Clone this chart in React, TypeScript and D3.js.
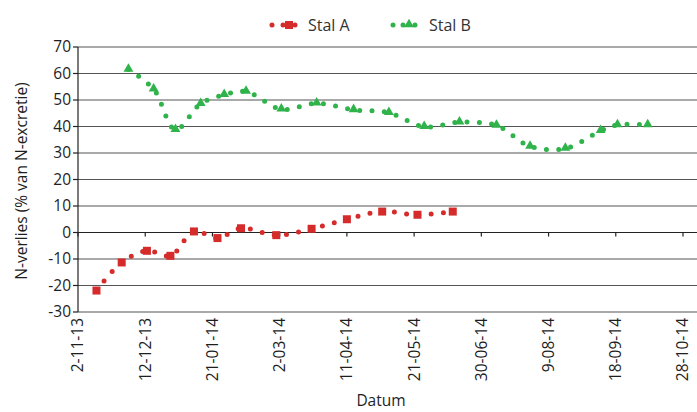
import React from "react";
import * as d3 from "d3";

const stalADates = [
  "2013-11-13", "2013-11-28", "2013-12-13", "2013-12-27", "2014-01-10",
  "2014-01-24", "2014-02-07", "2014-02-28", "2014-03-21", "2014-04-11",
  "2014-05-02", "2014-05-23", "2014-06-13",
];
const stalAValues = [-21.9, -11.3, -6.9, -8.8, 0.4, -2.1, 1.6, -1.0, 1.4, 5.0, 7.9, 6.7, 7.9];

const stalBDates = [
  "2013-12-02", "2013-12-17", "2013-12-30", "2014-01-14", "2014-01-28",
  "2014-02-10", "2014-03-03", "2014-03-24", "2014-04-15", "2014-05-06",
  "2014-05-27", "2014-06-17", "2014-07-09", "2014-07-29", "2014-08-19",
  "2014-09-09", "2014-09-19", "2014-10-07",
];
const stalBValues = [
  61.5, 54.1, 38.8, 48.6, 52.0, 53.2, 46.5, 48.8, 46.3, 45.2,
  39.9, 41.6, 40.4, 32.5, 31.7, 38.4, 40.6, 40.6,
];

const yTicks = [-30, -20, -10, 0, 10, 20, 30, 40, 50, 60, 70];
const xTickLabels = [
  "2-11-13", "12-12-13", "21-01-14", "2-03-14", "11-04-14",
  "21-05-14", "30-06-14", "9-08-14", "18-09-14", "28-10-14",
];

const RED = "#d52b2b";
const GREEN = "#2fb34a";
const TEXT = "#1e1e1e";
const FONT = "'Open Sans', 'Noto Sans', sans-serif";

const parse = d3.timeParse("%Y-%m-%d");
const parseTick = d3.timeParse("%d-%m-%y");

export default function App() {
  const width = 697;
  const height = 412;

  const start = parseTick(xTickLabels[0]) as Date;
  const end = parseTick(xTickLabels[xTickLabels.length - 1]) as Date;

  const x = d3.scaleTime().domain([start, end]).range([78, 683]);
  const y = d3.scaleLinear().domain([-30, 70]).range([312, 47]);

  const seriesA = stalADates.map((d, i) => ({ date: parse(d) as Date, value: stalAValues[i] }));
  const seriesB = stalBDates.map((d, i) => ({ date: parse(d) as Date, value: stalBValues[i] }));

  const line = d3
    .line<{ date: Date; value: number }>()
    .x((d) => x(d.date))
    .y((d) => y(d.value))
    .curve(d3.curveCatmullRom.alpha(0.5));

  const triangle = d3.symbol().type(d3.symbolTriangle).size(42)();

  return (
    <svg
      width={width}
      height={height}
      style={{ position: "absolute", left: 0, top: 0, background: "#fff" }}
      fontFamily={FONT}
    >
      {/* gridlines */}
      {yTicks.map((t) => (
        <line
          key={"g" + t}
          x1={78}
          x2={697}
          y1={y(t)}
          y2={y(t)}
          stroke={t === 0 ? "#222" : "#555"}
          strokeWidth={1.2}
        />
      ))}

      {/* y axis */}
      <line x1={78} x2={78} y1={y(70)} y2={y(-30)} stroke="#222" strokeWidth={1.2} />
      {yTicks.map((t) => (
        <g key={"y" + t}>
          <line x1={73} x2={78} y1={y(t)} y2={y(t)} stroke="#222" strokeWidth={1.2} />
          <text x={71} y={y(t)} dy="0.35em" textAnchor="end" fontSize={15.5} fill={TEXT}>
            {t}
          </text>
        </g>
      ))}

      {/* x axis ticks on zero line, labels at the bottom */}
      {xTickLabels.map((lbl) => {
        const xp = x(parseTick(lbl) as Date);
        return (
          <g key={lbl}>
            <line x1={xp} x2={xp} y1={y(0)} y2={y(0) + 4} stroke="#222" strokeWidth={1.2} />
            <text
              transform={`translate(${xp},318) rotate(-90)`}
              dy="0.35em"
              textAnchor="end"
              fontSize={15.5}
              fill={TEXT}
            >
              {lbl}
            </text>
          </g>
        );
      })}

      {/* axis titles */}
      <text x={381} y={406} textAnchor="middle" fontSize={15.5} fill={TEXT}>
        Datum
      </text>
      <text
        transform={`translate(27,181) rotate(-90)`}
        textAnchor="middle"
        fontSize={15.5}
        fill={TEXT}
      >
        N-verlies (% van N-excretie)
      </text>

      {/* dotted smoothed lines */}
      <path
        d={line(seriesA) || ""}
        fill="none"
        stroke={RED}
        strokeWidth={5}
        strokeLinecap="round"
        strokeDasharray="0 12.3"
      />
      <path
        d={line(seriesB) || ""}
        fill="none"
        stroke={GREEN}
        strokeWidth={5}
        strokeLinecap="round"
        strokeDasharray="0 12.3"
      />

      {/* markers */}
      {seriesA.map((d, i) => (
        <rect
          key={"a" + i}
          x={x(d.date) - 4}
          y={y(d.value) - 4}
          width={8}
          height={8}
          fill={RED}
        />
      ))}
      {seriesB.map((d, i) => (
        <path
          key={"b" + i}
          d={triangle || ""}
          transform={`translate(${x(d.date)},${y(d.value) - 0.5})`}
          fill={GREEN}
        />
      ))}

      {/* legend */}
      <g>
        <circle cx={272} cy={25} r={2.5} fill={RED} />
        <circle cx={283} cy={25} r={2.5} fill={RED} />
        <rect x={285} y={21} width={8} height={8} fill={RED} />
        <circle cx={295} cy={25} r={2.5} fill={RED} />
        <text x={308} y={25} dy="0.35em" fontSize={16} fill="#333">
          Stal A
        </text>

        <circle cx={393} cy={25} r={2.5} fill={GREEN} />
        <circle cx={403} cy={25} r={2.5} fill={GREEN} />
        <path d={triangle || ""} transform="translate(409,24.5)" fill={GREEN} />
        <circle cx={415} cy={25} r={2.5} fill={GREEN} />
        <text x={429} y={25} dy="0.35em" fontSize={16} fill="#333">
          Stal B
        </text>
      </g>
    </svg>
  );
}
